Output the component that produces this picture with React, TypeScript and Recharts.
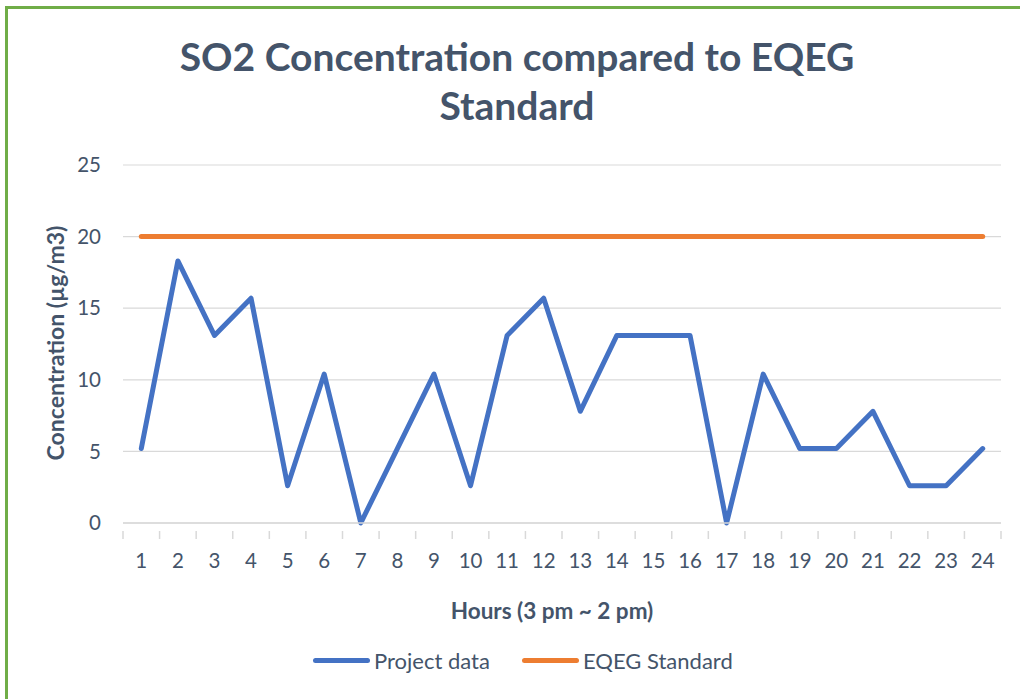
import React from "react";
import { LineChart, Line, XAxis, YAxis, CartesianGrid } from "recharts";

const hours = ["1", "2", "3", "4", "5", "6", "7", "8", "9", "10", "11", "12", "13", "14", "15", "16", "17", "18", "19", "20", "21", "22", "23", "24"];
const projectData = [5.2, 18.3, 13.1, 15.7, 2.6, 10.4, 0, 5.2, 10.4, 2.6, 13.1, 15.7, 7.8, 13.1, 13.1, 13.1, 0, 10.4, 5.2, 5.2, 7.8, 2.6, 2.6, 5.2];
const eqegStandard = [20, 20, 20, 20, 20, 20, 20, 20, 20, 20, 20, 20, 20, 20, 20, 20, 20, 20, 20, 20, 20, 20, 20, 20];
const yTicks = [0, 5, 10, 15, 20, 25];

const data = hours.map((h, i) => ({ hour: h, project: projectData[i], standard: eqegStandard[i] }));

const TEXT = "#44546a";
const FONT = "Lato, 'Open Sans', sans-serif";
const BLUE = "#4472c4";
const ORANGE = "#ed7d31";

// plot box
const PLOT_LEFT = 123;
const PLOT_RIGHT = 1001;
const BAND = (PLOT_RIGHT - PLOT_LEFT) / hours.length;

const HourTick = (props: any) => {
  const { x, y, payload, index } = props;
  const left = x - BAND / 2;
  return (
    <g>
      <line x1={left} x2={left} y1={y} y2={y + 8} stroke="#d9d9d9" strokeWidth={1.5} />
      {index === hours.length - 1 && (
        <line x1={x + BAND / 2} x2={x + BAND / 2} y1={y} y2={y + 8} stroke="#d9d9d9" strokeWidth={1.5} />
      )}
      <text x={x} y={y + 37} textAnchor="middle" fill={TEXT} fontSize={20.5} fontFamily={FONT}>
        {payload.value}
      </text>
    </g>
  );
};

const LegendItem = ({ color, label, width }: { color: string; label: string; width: number }) => (
  <div style={{ display: "flex", alignItems: "center", width }}>
    <div style={{ width: 57, height: 5, borderRadius: 3, background: color, marginRight: 4 }} />
    <span>{label}</span>
  </div>
);

export default function App() {
  return (
    <div style={{ position: "absolute", left: 0, top: 0, width: 1020, height: 699, background: "#fff", overflow: "hidden", fontFamily: FONT }}>
      <div style={{ position: "absolute", left: 5, top: 6, width: 1030, height: 720, borderLeft: "3px solid #70ad47", borderTop: "3px solid #70ad47" }} />
      <div style={{ position: "absolute", left: 0, width: 1034, top: 32, textAlign: "center", color: TEXT, fontSize: 39, fontWeight: 700, lineHeight: "49px" }}>
        SO2 Concentration compared to EQEG
        <br />
        Standard
      </div>
      <div style={{ position: "absolute", top: 0, left: 0 }}>
        <LineChart width={1020} height={699} data={data} margin={{ top: 165, bottom: 136, left: 63, right: 1020 - PLOT_RIGHT }}>
          <CartesianGrid vertical={false} stroke="#d9d9d9" strokeWidth={1.2} />
          <XAxis
            dataKey="hour"
            scale="band"
            height={40}
            tickLine={false}
            axisLine={{ stroke: "#d9d9d9", strokeWidth: 1.5 }}
            tick={<HourTick />}
            interval={0}
          />
          <YAxis
            width={60}
            domain={[0, 25]}
            ticks={yTicks}
            tickLine={false}
            axisLine={false}
            tickSize={0}
            tickMargin={22}
            tick={{ fill: TEXT, fontSize: 20.5, fontFamily: FONT }}
          />
          <Line dataKey="standard" stroke={ORANGE} strokeWidth={5} dot={false} strokeLinecap="round" isAnimationActive={false} />
          <Line dataKey="project" stroke={BLUE} strokeWidth={5} dot={false} strokeLinejoin="round" strokeLinecap="round" isAnimationActive={false} />
        </LineChart>
      </div>
      <div
        style={{
          position: "absolute",
          left: 55,
          top: 343,
          transform: "translate(-50%, -50%) rotate(-90deg)",
          whiteSpace: "nowrap",
          color: TEXT,
          fontSize: 23,
          fontWeight: 700,
        }}
      >
        Concentration (µg/m3)
      </div>
      <div style={{ position: "absolute", left: 0, width: 1104, top: 597, textAlign: "center", color: TEXT, fontSize: 22.5, fontWeight: 700 }}>
        Hours (3 pm ~ 2 pm)
      </div>
      <div style={{ position: "absolute", left: 313, top: 647, display: "flex", color: TEXT, fontSize: 22 }}>
        <LegendItem color={BLUE} label="Project data" width={209} />
        <LegendItem color={ORANGE} label="EQEG Standard" width={220} />
      </div>
    </div>
  );
}
